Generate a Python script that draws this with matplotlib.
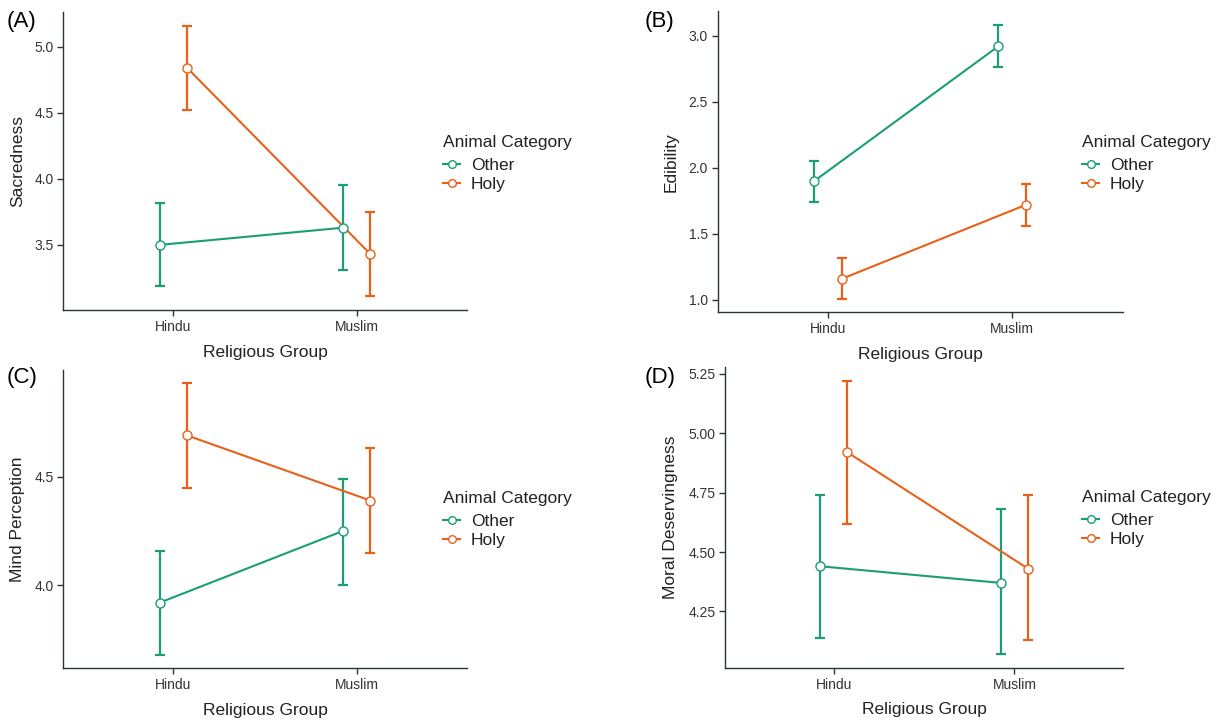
import matplotlib.pyplot as plt
from matplotlib.lines import Line2D

plt.rcParams['font.family'] = ['Liberation Sans', 'DejaVu Sans']

groups = ['Hindu', 'Muslim']
categories = ['Other', 'Holy']

# means with lower / upper interval bounds, one pair per religious group
sacred_other = [3.50, 3.63]
sacred_other_lo = [3.19, 3.31]
sacred_other_hi = [3.82, 3.95]
sacred_holy = [4.84, 3.43]
sacred_holy_lo = [4.52, 3.11]
sacred_holy_hi = [5.16, 3.75]

edible_other = [1.90, 2.92]
edible_other_lo = [1.74, 2.76]
edible_other_hi = [2.05, 3.08]
edible_holy = [1.16, 1.72]
edible_holy_lo = [1.01, 1.56]
edible_holy_hi = [1.32, 1.88]

mind_other = [3.92, 4.25]
mind_other_lo = [3.68, 4.00]
mind_other_hi = [4.16, 4.49]
mind_holy = [4.69, 4.39]
mind_holy_lo = [4.45, 4.15]
mind_holy_hi = [4.93, 4.63]

moral_other = [4.44, 4.37]
moral_other_lo = [4.14, 4.07]
moral_other_hi = [4.74, 4.68]
moral_holy = [4.92, 4.43]
moral_holy_lo = [4.62, 4.13]
moral_holy_hi = [5.22, 4.74]

GREEN = '#1b9e77'
ORANGE = '#e8611a'
INK = '#222222'
AXIS = '#2b3535'

W, H = 1216, 720
fig = plt.figure(figsize=(W / 100, H / 100), dpi=100)


def box(left, top, right, bottom):
    return [left / W, 1 - bottom / H, (right - left) / W, (bottom - top) / H]


def panel(rect, letter, letter_xy, ylabel, ylabel_x, ticks, fmt, series, legend_xy):
    ax = fig.add_axes(box(*rect))
    x = [1, 2]
    dodge = 0.075
    lows, highs = [], []
    for (mean, lo, hi), color, sign in zip(series, [GREEN, ORANGE], [-1, 1]):
        xs = [v + sign * dodge for v in x]
        yerr = [[m - l for m, l in zip(mean, lo)], [h - m for m, h in zip(mean, hi)]]
        ax.errorbar(xs, mean, yerr=yerr, fmt='none', ecolor=color, elinewidth=1.6,
                    capsize=3.8, capthick=1.6, zorder=2)
        ax.plot(xs, mean, color=color, lw=1.5, zorder=3)
        ax.plot(xs, mean, 'o', ms=6.5, mfc='white', mec=color, mew=1.0, zorder=4)
        lows += lo
        highs += hi
    lo, hi = min(lows), max(highs)
    pad = 0.05 * (hi - lo)
    ax.set_ylim(lo - pad, hi + pad)
    ax.set_xlim(0.4, 2.6)
    ax.set_xticks(x)
    ax.set_xticklabels(groups)
    ax.set_yticks(ticks)
    ax.set_yticklabels([fmt % t for t in ticks])
    for s in ['top', 'right']:
        ax.spines[s].set_visible(False)
    for s in ['left', 'bottom']:
        ax.spines[s].set_color(AXIS)
        ax.spines[s].set_linewidth(1.0)
    ax.tick_params(length=4, width=1.0, color=AXIS, labelsize=10, labelcolor='#333333', pad=3)

    left, top, right, bottom = rect
    fig.text((left + right) / 2 / W, 1 - (bottom + 42) / H, 'Religious Group',
             ha='center', va='center', fontsize=12.5, color=INK)
    fig.text(ylabel_x / W, 1 - (top + bottom) / 2 / H, ylabel, rotation=90,
             ha='center', va='center', fontsize=12.5, color=INK)
    fig.text(letter_xy[0] / W, 1 - letter_xy[1] / H, letter,
             ha='left', va='center', fontsize=16, color='black')

    handles = [Line2D([0], [0], color=c, lw=1.5, marker='o', ms=5.5, mfc='white', mec=c)
               for c in [GREEN, ORANGE]]
    leg = ax.legend(handles, categories, title='Animal Category', loc='upper left',
                    bbox_to_anchor=(legend_xy[0] / W, 1 - legend_xy[1] / H),
                    bbox_transform=fig.transFigure, frameon=False, fontsize=12.5,
                    title_fontsize=12.5, handlelength=1.0, handletextpad=0.6,
                    labelspacing=0.2, borderpad=0, borderaxespad=0)
    leg._legend_box.align = 'left'
    leg._legend_box.sep = 6
    for t in leg.get_texts():
        t.set_color(INK)
    leg.get_title().set_color(INK)
    return ax


panel((63.3, 12, 466.7, 310), '(A)', (7, 22), 'Sacredness', 18,
      [3.5, 4.0, 4.5, 5.0], '%.1f',
      [(sacred_other, sacred_other_lo, sacred_other_hi),
       (sacred_holy, sacred_holy_lo, sacred_holy_hi)], (443, 135))

panel((717.6, 11.4, 1122.7, 312.3), '(B)', (645, 22), 'Edibility', 671,
      [1.0, 1.5, 2.0, 2.5, 3.0], '%.1f',
      [(edible_other, edible_other_lo, edible_other_hi),
       (edible_holy, edible_holy_lo, edible_holy_hi)], (1082, 135))

panel((63.3, 369.7, 466.7, 668.4), '(C)', (7, 378), 'Mind Perception', 18,
      [4.0, 4.5], '%.1f',
      [(mind_other, mind_other_lo, mind_other_hi),
       (mind_holy, mind_holy_lo, mind_holy_hi)], (443, 491))

panel((725.3, 367.4, 1122.9, 667.8), '(D)', (645, 378), 'Moral Deservingness', 671,
      [4.25, 4.5, 4.75, 5.0, 5.25], '%.2f',
      [(moral_other, moral_other_lo, moral_other_hi),
       (moral_holy, moral_holy_lo, moral_holy_hi)], (1082, 490))

fig.savefig('out.png', dpi=100)
